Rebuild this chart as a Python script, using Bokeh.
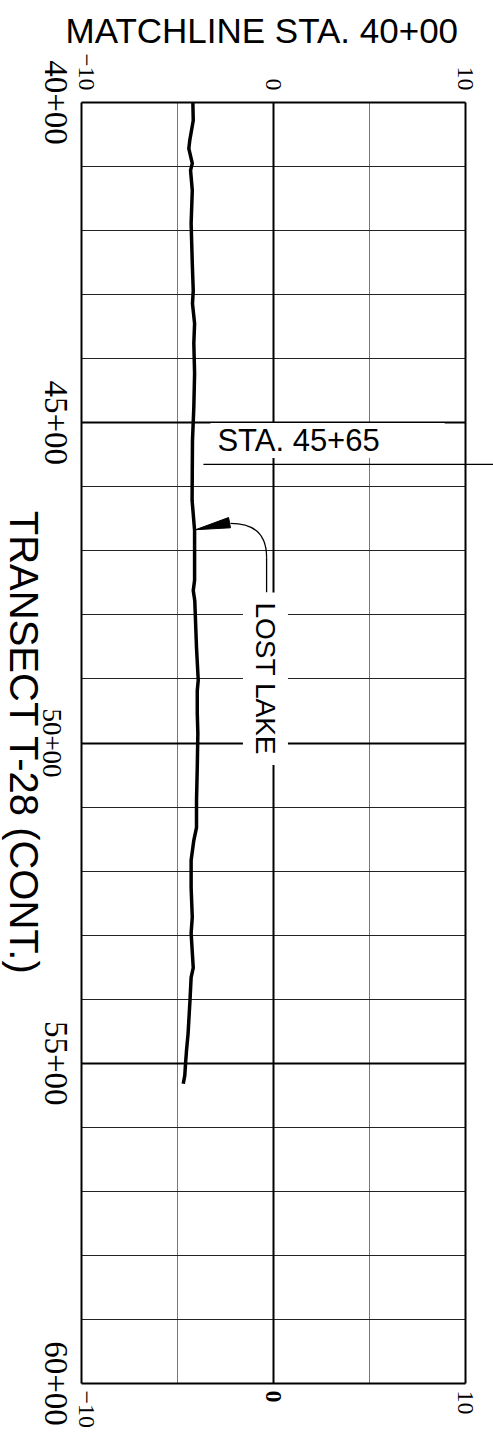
import math
from bokeh.plotting import figure
from bokeh.models import (Range1d, FixedTicker, Grid, Label, LabelSet, Arrow,
                          ColumnDataSource)
from bokeh.embed import file_html
from bokeh.resources import INLINE

FONT = "Liberation Sans"

# ---------------- data ----------------
offset_ticks = [-10, 0, 10]
offset_tick_labels = ["\u221210", "0", "10"]
offset_box = [-10, 10]
offset_minor_grid = [-5, 5]
offset_major_grid = [0]

station_ticks = [4000, 4500, 5000, 5500, 6000]
station_tick_labels = ["40+00", "45+00", "50+00", "55+00", "60+00"]
station_box = [4000, 6000]
station_major_grid = [4500, 5000, 5500]
station_minor_grid = [4100, 4200, 4300, 4400, 4600, 4700, 4800, 4900,
                      5100, 5200, 5300, 5400, 5600, 5700, 5800, 5900]

prof_station = [4000, 4028, 4059, 4072, 4095, 4106, 4137, 4189, 4251, 4294,
                4314, 4345, 4376, 4423, 4476, 4528, 4575, 4621, 4668, 4746,
                4762, 4778, 4851, 4902, 4918, 4954, 4985, 5038, 5090, 5132,
                5152, 5183, 5226, 5272, 5297, 5351, 5366, 5402, 5454, 5480,
                5500, 5519, 5532]
prof_offset = [-4.20, -4.18, -4.36, -4.41, -4.23, -4.32, -4.23, -4.29, -4.23, -4.18,
               -4.22, -4.11, -4.15, -4.11, -4.15, -4.22, -4.23, -4.24, -4.11, -4.11,
               -4.18, -4.10, -4.01, -3.92, -3.97, -3.97, -3.94, -3.97, -4.01, -4.01,
               -4.15, -4.29, -4.29, -4.23, -4.29, -4.18, -4.29, -4.35, -4.45, -4.53,
               -4.58, -4.62, -4.70]

title_text = "MATCHLINE STA. 40+00"
side_text = "TRANSECT T-28 (CONT.)"

sta_callout_text = "STA. 45+65"
sta_callout_station = 4565
sta_callout_offsets = [-3.65, 12.0]

lake_text = "LOST LAKE"
lake_head_x = [-4.06, -2.34, -2.24]
lake_head_y = [4667, 4648, 4664]
lake_curve = dict(x0=[-2.24], y0=[4657], cx=[-0.36], cy=[4657], x1=[-0.36], y1=[4710])
lake_stem = dict(x0=[-0.36], y0=[4710], x1=[-0.36], y1=[4765])
lake_text_pos = (-0.42, 4765)

# ---------------- layout (pixels) ----------------
W, H = 493, 1436
BOX_L, BOX_R, BOX_T, BOX_B = 81, 465, 102, 1383
TOP = 54  # title panel height
xs = (BOX_R - BOX_L) / (offset_box[1] - offset_box[0])
ys = (BOX_B - BOX_T) / (station_box[1] - station_box[0])
x_range = Range1d(offset_box[0] - BOX_L / xs, offset_box[1] + (W - BOX_R) / xs)
y_range = Range1d(station_box[1] + (H - BOX_B) / ys, station_box[0] - (BOX_T - TOP) / ys)

p = figure(width=W, height=H, x_range=x_range, y_range=y_range,
           x_axis_type=None, y_axis_type=None, output_backend="svg", toolbar_location=None,
           min_border_left=0, min_border_right=0, min_border_top=TOP, min_border_bottom=0)
p.outline_line_color = None
p.background_fill_color = "white"
p.border_fill_color = "white"

# title
p.title.text = title_text
p.title.text_font = FONT
p.title.text_font_size = "35px"
p.title.text_font_style = "normal"
p.title.text_color = "black"
p.title.align = "left"
p.title.offset = 65

# grids and box
has_cross = "cross_bounds" in Grid.properties()
for dim, ticks, color, width in [
    (0, offset_minor_grid, "#777777", 1),
    (1, station_minor_grid, "#222222", 1),
    (0, offset_major_grid, "black", 2),
    (1, station_major_grid, "black", 2),
    (0, offset_box, "black", 2),
    (1, station_box, "black", 2),
]:
    cross = tuple(station_box) if dim == 0 else tuple(offset_box)
    if has_cross:
        p.add_layout(Grid(dimension=dim, ticker=FixedTicker(ticks=ticks),
                          grid_line_color=color, grid_line_width=width,
                          cross_bounds=cross))
    else:
        if dim == 0:
            p.segment(x0=ticks, x1=ticks, y0=[cross[0]] * len(ticks), y1=[cross[1]] * len(ticks),
                      line_color=color, line_width=width, level="underlay")
        else:
            p.segment(y0=ticks, y1=ticks, x0=[cross[0]] * len(ticks), x1=[cross[1]] * len(ticks),
                      line_color=color, line_width=width, level="underlay")

# offset tick labels (top and bottom)
top_src = ColumnDataSource(dict(x=offset_ticks, text=offset_tick_labels,
                                dx=[5 if v == -10 else 0 for v in offset_ticks]))
p.add_layout(LabelSet(x="x", y=station_box[0], text="text", source=top_src,
                      angle=-math.pi / 2, x_offset="dx", y_offset=12,
                      text_align="right", text_baseline="middle",
                      text_font=FONT, text_font_size="24px", text_color="black"))
bot_src = ColumnDataSource(dict(x=offset_ticks, text=offset_tick_labels,
                                dx=[5 if v == -10 else 0 for v in offset_ticks],
                                style=["bold" if v == 0 else "normal" for v in offset_ticks]))
p.add_layout(LabelSet(x="x", y=station_box[1], text="text", source=bot_src,
                      angle=-math.pi / 2, x_offset="dx", y_offset=-7,
                      text_align="left", text_baseline="middle", text_font_style="style",
                      text_font=FONT, text_font_size="24px", text_color="black"))

# station labels (left)
st_src = ColumnDataSource(dict(y=station_ticks, text=station_tick_labels,
                               size=["27px" if s == 5000 else "33px" for s in station_ticks],
                               dx=[-30 if s == 5000 else -26 for s in station_ticks]))
p.add_layout(LabelSet(x=offset_box[0], y="y", text="text", source=st_src,
                      angle=-math.pi / 2, x_offset="dx",
                      text_align="center", text_baseline="middle",
                      text_font=FONT, text_font_size="size", text_color="black"))

# side title
p.add_layout(Label(x=offset_box[0], y=5000, x_offset=-58, text=side_text,
                   angle=-math.pi / 2, text_align="center", text_baseline="middle",
                   text_font=FONT, text_font_size="40px", text_color="black"))

# profile line
p.line(prof_offset, prof_station, line_width=3.5, line_color="black", line_join="round")

# STA. 45+65 callout
p.add_layout(Label(x=sta_callout_offsets[0], y=sta_callout_station, x_offset=7, y_offset=24,
                   text=sta_callout_text, text_align="left", text_baseline="middle",
                   text_font=FONT, text_font_size="31px", text_color="black",
                   background_fill_color="white",
                   padding=dict(left=7, right=65, top=0, bottom=0)))
p.add_layout(Arrow(end=None, x_start=sta_callout_offsets[0], y_start=sta_callout_station,
                   x_end=sta_callout_offsets[1], y_end=sta_callout_station,
                   line_color="black", line_width=1.3))

# LOST LAKE callout
p.patch(lake_head_x, lake_head_y, fill_color="black", line_color="black")
p.quadratic(line_color="black", line_width=1.3, **lake_curve)
p.segment(line_color="black", line_width=1.3, **lake_stem)
p.add_layout(Label(x=lake_text_pos[0], y=lake_text_pos[1], text=lake_text,
                   angle=-math.pi / 2, text_align="left", text_baseline="middle",
                   text_font=FONT, text_font_size="28px", text_color="black",
                   background_fill_color="white",
                   padding=dict(left=10, right=10, top=7, bottom=7)))

open("out.html", "w").write(file_html(p, INLINE))
